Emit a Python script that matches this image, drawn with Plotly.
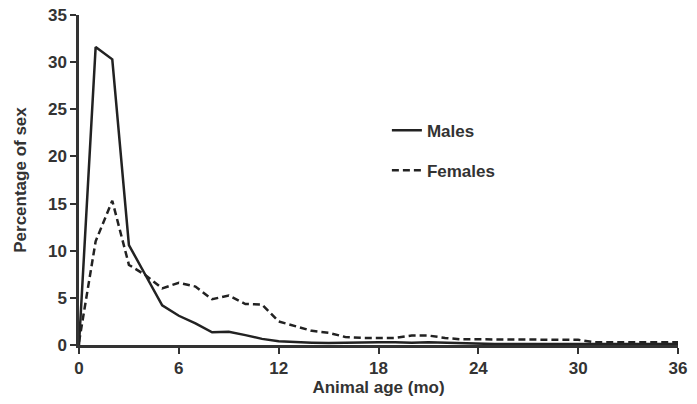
import plotly.graph_objects as go

months = list(range(0, 37))
males = [0.0, 31.6, 30.3, 10.6, 7.4, 4.2, 3.1, 2.3, 1.35, 1.4, 1.05, 0.65, 0.4,
         0.3, 0.25, 0.2, 0.25, 0.3, 0.3, 0.3, 0.25, 0.3, 0.25, 0.15, 0.1,
         0.1, 0.1, 0.1, 0.1, 0.1, 0.1, 0.1, 0.1, 0.1, 0.1, 0.1, 0.1]
females = [0.3, 11.0, 15.3, 8.5, 7.4, 6.0, 6.6, 6.2, 4.85, 5.25, 4.35, 4.3, 2.5,
           2.0, 1.5, 1.3, 0.85, 0.75, 0.75, 0.75, 1.0, 1.0, 0.75, 0.6, 0.6,
           0.6, 0.6, 0.6, 0.6, 0.6, 0.55, 0.3, 0.3, 0.3, 0.3, 0.3, 0.3]

x_ticks = [0, 6, 12, 18, 24, 30, 36]
y_ticks = [0, 5, 10, 15, 20, 25, 30, 35]

ink = "#222222"
txt = "#333333"
font_family = "Liberation Sans, Arial, sans-serif"
fs = 17

fig = go.Figure()
fig.add_trace(go.Scatter(x=months, y=males, mode="lines", name="<b>Males</b>",
                         legendgroup="m",
                         line=dict(color=ink, width=2.5)))
fig.add_trace(go.Scatter(x=months, y=females, mode="lines", name="<b>Females</b>",
                         legendgroup="f",
                         line=dict(color=ink, width=2.5, dash="7px,4px")))

fig.update_layout(
    width=697, height=404,
    margin=dict(l=79, r=19, t=15, b=59),
    paper_bgcolor="white", plot_bgcolor="white",
    font=dict(family=font_family, size=fs, color=txt),
    showlegend=True,
    legend=dict(x=0.514, y=0.704, xanchor="left", yanchor="top",
                bgcolor="rgba(0,0,0,0)", tracegroupgap=15,
                font=dict(size=fs, color=txt), itemwidth=30),
    xaxis=dict(range=[0, 36], tickvals=x_ticks, automargin=False,
               ticktext=[f"<b>{v}</b>" for v in x_ticks],
               ticklabeloverflow="allow",
               showgrid=False, zeroline=False, showline=True,
               linecolor=txt, linewidth=2.5, ticks="outside",
               ticklen=6, tickwidth=2, tickcolor=txt,
               tickfont=dict(size=fs, color=txt),
               title=dict(text="<b>Animal age (mo)</b>", font=dict(size=fs, color=txt), standoff=3)),
    yaxis=dict(range=[0, 35], tickvals=y_ticks, automargin=False,
               ticktext=[f"<b>{v}</b>" for v in y_ticks],
               ticklabeloverflow="allow",
               showgrid=False, zeroline=False, showline=True,
               linecolor=txt, linewidth=2.5, ticks="outside",
               ticklen=6, tickwidth=2, tickcolor=txt,
               tickfont=dict(size=fs, color=txt),
               title=dict(text="<b>Percentage of sex</b>", font=dict(size=fs, color=txt), standoff=17)),
)

# remove the default 8px page margin so the figure sits at the window's corner
fig.write_html("out.html", config={"displayModeBar": False},
               post_script="document.body.style.margin='0';")
